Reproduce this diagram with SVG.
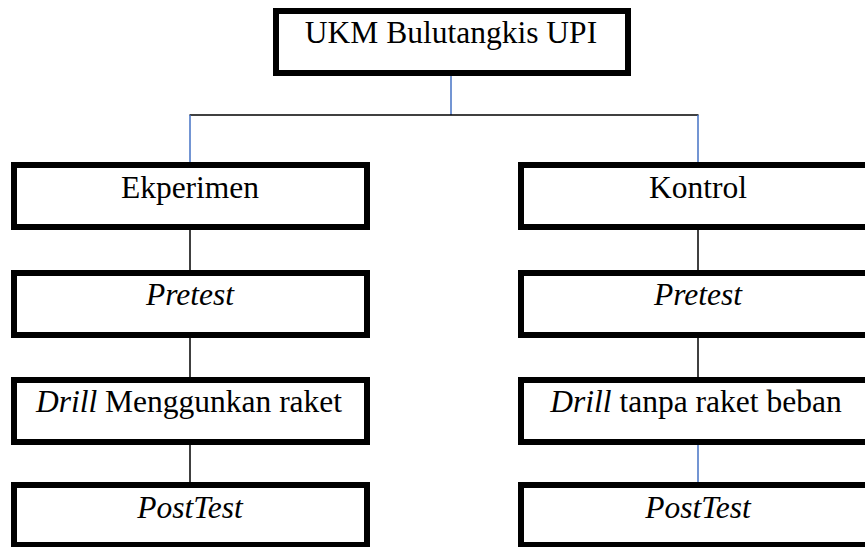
<svg xmlns="http://www.w3.org/2000/svg" width="865" height="547" viewBox="0 0 865 547">
<style>
.box{fill:#fff;stroke:#000;stroke-width:6}
text{font-family:'Liberation Serif','Times New Roman',Times,serif;font-size:31.5px;fill:#000;text-anchor:middle}
.i{font-style:italic}
.k{stroke:#000;stroke-width:1.5;fill:none}
.b{stroke:#4472C4;stroke-width:1.5;fill:none}
</style>
<rect width="865" height="547" fill="#fff"/>
<g id="connectors">
<line class="b" x1="451" y1="76" x2="451" y2="115"/>
<line class="k" x1="189.5" y1="115" x2="698.5" y2="115"/>
<line class="b" x1="190" y1="115" x2="190" y2="162"/>
<line class="b" x1="698" y1="115" x2="698" y2="162"/>
<line class="k" x1="190" y1="230" x2="190" y2="270"/>
<line class="k" x1="190" y1="338" x2="190" y2="377"/>
<line class="k" x1="190" y1="445" x2="190" y2="482"/>
<line class="k" x1="698" y1="230" x2="698" y2="270"/>
<line class="k" x1="698" y1="338" x2="698" y2="377"/>
<line class="b" x1="698" y1="445" x2="698" y2="482"/>
</g>
<g id="ukm">
<rect class="box" x="276" y="11" width="352" height="62"/>
<text x="451" y="43" font-family="Liberation Serif" style="font-family:'Liberation Serif',serif">UKM Bulutangkis UPI</text>
</g>
<g id="ekperimen">
<rect class="box" x="14" y="165" width="353" height="62"/>
<text x="190" y="198" font-family="Liberation Serif" style="font-family:'Liberation Serif',serif">Ekperimen</text>
</g>
<g id="kontrol">
<rect class="box" x="521" y="165" width="360" height="62"/>
<text x="698" y="198" font-family="Liberation Serif" style="font-family:'Liberation Serif',serif">Kontrol</text>
</g>
<g id="pretest-left">
<rect class="box" x="14" y="273" width="353" height="62"/>
<text class="i" x="190" y="305" font-family="Liberation Serif" style="font-family:'Liberation Serif',serif">Pretest</text>
</g>
<g id="pretest-right">
<rect class="box" x="521" y="273" width="360" height="62"/>
<text class="i" x="698" y="305" font-family="Liberation Serif" style="font-family:'Liberation Serif',serif">Pretest</text>
</g>
<g id="drill-left">
<rect class="box" x="14" y="380" width="353" height="62"/>
<text x="189" y="412" font-family="Liberation Serif" style="font-family:'Liberation Serif',serif"><tspan class="i">Drill</tspan> Menggunkan raket</text>
</g>
<g id="drill-right">
<rect class="box" x="521" y="380" width="360" height="62"/>
<text x="696" y="412" font-family="Liberation Serif" style="font-family:'Liberation Serif',serif"><tspan class="i">Drill</tspan> tanpa raket beban</text>
</g>
<g id="posttest-left">
<rect class="box" x="14" y="485" width="353" height="60"/>
<text class="i" x="190" y="518" font-family="Liberation Serif" style="font-family:'Liberation Serif',serif">PostTest</text>
</g>
<g id="posttest-right">
<rect class="box" x="521" y="485" width="360" height="60"/>
<text class="i" x="698" y="518" font-family="Liberation Serif" style="font-family:'Liberation Serif',serif">PostTest</text>
</g>
</svg>
